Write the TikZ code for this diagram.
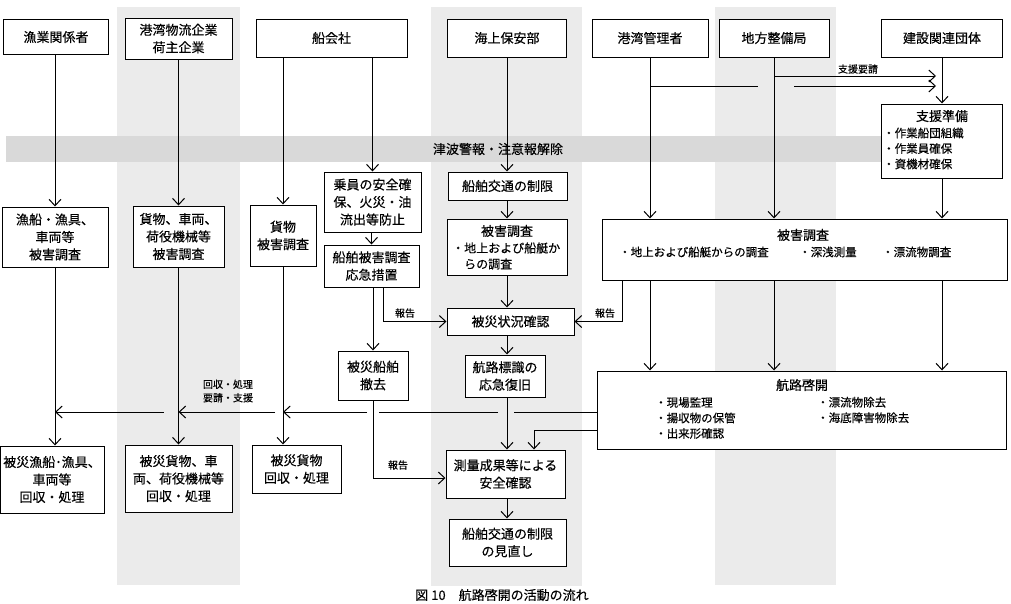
\documentclass[tikz,border=0pt]{standalone}
\usepackage{fontspec}
\setmainfont{Noto Sans CJK JP}[FakeBold=0.3]
\usetikzlibrary{arrows.meta,positioning,calc}

\definecolor{bandgray}{HTML}{EBEBEB}
\definecolor{alertgray}{HTML}{D9D9D9}

\newcommand{\bodyfont}{\fontsize{13}{17.5}\selectfont}
\newcommand{\itemfont}{\fontsize{11.5}{15.5}\selectfont}
\newcommand{\notefont}{\fontsize{10}{13.5}\selectfont}

\begin{document}
\begin{tikzpicture}[
    x=1pt, y=-1pt,
    box/.style={rectangle, draw, fill=white, line width=1pt, align=center, inner sep=0pt, font=\bodyfont},
    item/.style={align=left, inner sep=0pt, font=\itemfont},
    note/.style={align=center, inner sep=0pt, font=\notefont},
    arrow/.style={-{Straight Barb[length=6.5pt,width=12pt]}, line width=1pt},
    link/.style={line width=1pt}
]
    \useasboundingbox (0,0) rectangle (1011,603);
    \clip (0,0) rectangle (1011,603);

    % background bands
    \fill[bandgray] (117,7) rectangle (240,585);
    \fill[bandgray] (431,7) rectangle (582,586);
    \fill[bandgray] (715,7) rectangle (836,585);
    \fill[alertgray] (6,136) rectangle (1000,162);
    \node[font=\bodyfont] (alert) at (498,149) {津波警報・注意報解除};

    % actors
    \node[box, minimum width=105pt, minimum height=35pt] (fish) at (56,37) {漁業関係者};
    \node[box, minimum width=107pt, minimum height=41pt] (logi) at (178.5,38.5) {港湾物流企業\\荷主企業};
    \node[box, minimum width=151pt, minimum height=38pt] (ship) at (331.5,38) {船会社};
    \node[box, minimum width=119pt, minimum height=38pt] (jcg) at (507,38) {海上保安部};
    \node[box, minimum width=116pt, minimum height=38pt] (port) at (650,38) {港湾管理者};
    \node[box, minimum width=110pt, minimum height=38pt] (rdb) at (774,38) {地方整備局};
    \node[box, minimum width=121pt, minimum height=38pt] (cons) at (942,38) {建設関連団体};

    % first actions
    \node[box, minimum width=106pt, minimum height=60pt] (fishdmg) at (55,237) {漁船・漁具、\\車両等\\被害調査};
    \node[box, minimum width=91pt, minimum height=61pt] (cargo) at (178.5,236.5) {貨物、車両、\\荷役機械等\\被害調査};
    \node[box, minimum width=66pt, minimum height=61pt] (cargodmg) at (283,235.5) {貨物\\被害調査};
    \node[box, minimum width=97pt, minimum height=60pt] (crew) at (372.5,202) {乗員の安全確\\保、火災・油\\流出等防止};
    \node[box, minimum width=95pt, minimum height=42pt] (shipdmg) at (371.5,266) {船舶被害調査\\応急措置};
    \node[box, minimum width=119pt, minimum height=28pt] (restrict) at (507.5,186) {船舶交通の制限};
    \node[box, minimum width=120pt, minimum height=56pt] (jcgsurvey) at (507,247) {};
    \node[font=\bodyfont] (jsTitle) at (507,231) {被害調査};
    \node[align=left, inner sep=0pt, font=\fontsize{12}{16}\selectfont, anchor=west] (jsItem) at (452,256) {・地上および船艇か\\\phantom{・}らの調査};
    \node[box, minimum width=127pt, minimum height=27pt] (status) at (510.5,321.5) {被災状況確認};
    \node[box, minimum width=70pt, minimum height=49pt] (wreck) at (373,375.5) {被災船舶\\撤去};
    \node[box, minimum width=80pt, minimum height=42pt] (aids) at (505,376) {航路標識の\\応急復旧};

    % support
    \node[box, minimum width=121pt, minimum height=74pt] (support) at (942,141) {};
    \node[font=\bodyfont] (spTitle) at (942,116) {支援準備};
    \node[item, anchor=west] (spItem) at (883,148.5) {・作業船団組織\\・作業員確保\\・資機材確保};

    % survey and clearing
    \node[box, minimum width=405pt, minimum height=61pt] (survey) at (804.5,249.5) {};
    \node[font=\bodyfont] (svTitle) at (803,235) {被害調査};
    \node[item, anchor=west] (svA) at (619,252) {・地上および船艇からの調査};
    \node[item, anchor=west] (svB) at (799,252) {・深浅測量};
    \node[item, anchor=west] (svC) at (882,252) {・漂流物調査};

    \node[box, minimum width=409pt, minimum height=78pt] (clear) at (801.5,410) {};
    \node[font=\bodyfont] (clTitle) at (802,385) {航路啓開};
    \node[item, anchor=west] (clLeft) at (655,418) {・現場監理\\・揚収物の保管\\・出来形確認};
    \node[item, anchor=west] (clRight) at (817,410) {・漂流物除去\\・海底障害物除去};

    % results
    \node[box, minimum width=119pt, minimum height=48pt] (safety) at (505.5,474) {測量成果等による\\安全確認};
    \node[box, minimum width=117pt, minimum height=47pt] (review) at (507.5,542.5) {船舶交通の制限\\の見直し};
    \node[box, minimum width=104pt, minimum height=67pt] (fishrec) at (52,479.5) {被災漁船･漁具、\\車両等\\回収・処理};
    \node[box, minimum width=107pt, minimum height=67pt] (cargorec) at (178.5,478.5) {被災貨物、車\\両、荷役機械等\\回収・処理};
    \node[box, minimum width=89pt, minimum height=48pt] (goodsrec) at (296.5,469) {被災貨物\\回収・処理};

    % free ends
    \coordinate (reqA) at (936,76);
    \coordinate (reqB) at (936,86);
    \coordinate (gapL) at (758,86);
    \coordinate (gapR) at (794,86);
    \coordinate (rtY) at (0,412);
    \coordinate (bend) at (534,430);
    \coordinate (crossA) at (jcg |- rtY);
    \coordinate (crossB) at (wreck |- rtY);

    % actors -> first actions
    \draw[arrow] (fish.south -| fishdmg) -- (fishdmg);
    \draw[arrow] (logi) -- (cargo);
    \draw[arrow] (ship.south -| cargodmg) -- (cargodmg);
    \draw[arrow] (ship.south -| crew) -- (crew);
    \draw[arrow] (jcg.south) -- (jcg.south |- restrict.north);
    \draw[arrow] (port.south) -- (port.south |- survey.north);
    \draw[arrow] (rdb.south) -- (rdb.south |- survey.north);
    \draw[arrow] (cons) -- (support);
    \draw[arrow] (support.south) -- (support.south |- survey.north);

    % support request
    \draw[link] (port.south |- reqB) -- (gapL);
    \draw[arrow] (gapR) -- (reqB);
    \draw[arrow] (rdb.south |- reqA) -- (reqA);
    \node[note] (askLbl) at (858,69) {支援要請};

    % ship and coast guard column
    \draw[arrow] (crew.south -| shipdmg) -- (shipdmg);
    \draw[arrow] (shipdmg.south -| wreck) -- (wreck);
    \draw[arrow] ($(shipdmg.south)+(11.5,0)$) |- (status.west);
    \node[note] (rep1) at (405,313) {報告};
    \draw[arrow] (restrict.south -| jcg) -- (jcgsurvey.north -| jcg);
    \draw[arrow] (jcgsurvey.south -| jcg) -- (status.north -| jcg);
    \draw[arrow] (status.south -| jcg) -- (aids.north -| jcg);
    \draw[arrow] (aids.south -| jcg) -- (safety.north -| jcg);
    \draw[arrow] (safety.south -| jcg) -- (review.north -| jcg);
    \draw[arrow] (wreck.south) |- ($(safety.west)+(0,4)$);
    \node[note] (rep3) at (398,465) {報告};

    % survey -> clearing
    \draw[arrow] ($(survey.south west)+(21,0)$) |- (status.east);
    \node[note] (rep2) at (605,313) {報告};
    \draw[arrow] (survey.south -| port.south) -- (clear.north -| port.south);
    \draw[arrow] (survey.south -| rdb.south) -- (clear.north -| rdb.south);
    \draw[arrow] (survey.south -| support.south) -- (clear.north -| support.south);

    % clearing -> recovery requests
    \draw[link] (clear.west |- rtY) -- ($(crossA)+(7,0)$);
    \draw[link] ($(crossA)+(-9,0)$) -- ($(crossB)+(6,0)$);
    \draw[arrow] ($(crossB)+(-6,0)$) -- (cargodmg |- rtY);
    \draw[arrow] ($(cargodmg |- rtY)+(-8,0)$) -- (cargo |- rtY);
    \draw[arrow] ($(cargo |- rtY)+(-15,0)$) -- (fishdmg |- rtY);
    \node[note] (recLbl) at (228,391) {回収・処理\\要請・支援};
    \draw[arrow] (clear.west |- bend) -- (bend) -- (bend |- safety.north);

    % damage survey -> recovery
    \draw[arrow] (fishdmg.south) -- (fishdmg.south |- fishrec.north);
    \draw[arrow] (cargo.south) -- (cargo.south |- cargorec.north);
    \draw[arrow] (cargodmg.south) -- (cargodmg.south |- goodsrec.north);

    \node[font=\fontsize{13}{15}\selectfont] (caption) at (502,595) {図 10　航路啓開の活動の流れ};
\end{tikzpicture}
\end{document}
